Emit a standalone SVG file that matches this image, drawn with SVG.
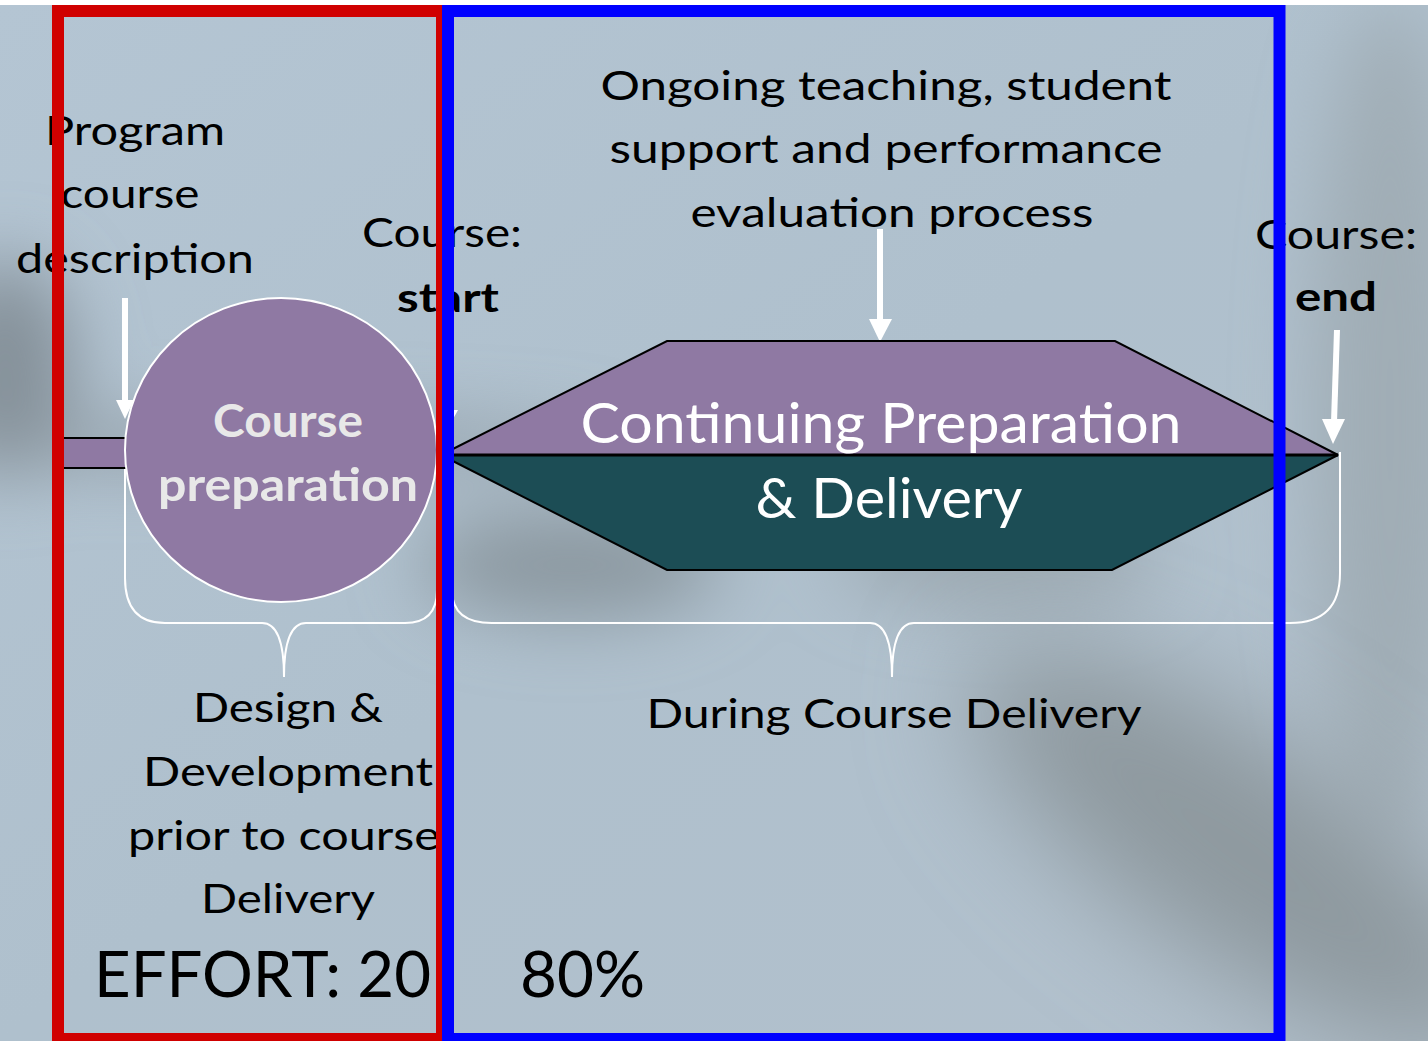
<svg xmlns="http://www.w3.org/2000/svg" width="1428" height="1041" viewBox="0 0 1428 1041">
  <defs>
    <filter id="blur" x="-50%" y="-50%" width="200%" height="200%">
      <feGaussianBlur stdDeviation="35"/>
    </filter>
    <filter id="blurL" x="-50%" y="-50%" width="200%" height="200%">
      <feGaussianBlur stdDeviation="55"/>
    </filter>
    <linearGradient id="bg" x1="0" y1="0" x2="1" y2="1">
      <stop offset="0" stop-color="#b4c5d3"/>
      <stop offset="0.5" stop-color="#afc0cd"/>
      <stop offset="1" stop-color="#b2c0cc"/>
    </linearGradient>
    <style>
      .lbl { font-family: Lato, "Open Sans", "Liberation Sans", sans-serif; font-size: 41px; fill: #000000; text-anchor: middle; }
      .b { font-weight: bold; }
      .big { font-family: Lato, "Open Sans", "Liberation Sans", sans-serif; font-size: 63px; fill: #000000; }
      .node-text { font-family: Lato, "Open Sans", "Liberation Sans", sans-serif; text-anchor: middle; }
      .arrow { stroke: #ffffff; stroke-width: 6; fill: none; }
      .head { fill: #ffffff; }
      .brace { stroke: #ffffff; stroke-width: 2; fill: none; }
      .purple { fill: #8f79a3; }
      .teal { fill: #1c4d55; }
    </style>
  </defs>

  <!-- background -->
  <g id="background">
    <rect x="0" y="0" width="1428" height="1041" fill="url(#bg)"/>
    <g filter="url(#blur)">
      <ellipse cx="5" cy="370" rx="70" ry="110" fill="#85919a"/>
      <ellipse cx="250" cy="445" rx="360" ry="22" fill="#8e9aa2"/>
      <ellipse cx="570" cy="565" rx="150" ry="55" fill="#8c99a1"/>
      <ellipse cx="1390" cy="420" rx="80" ry="420" fill="#a0adb6"/>
      <ellipse cx="1000" cy="560" rx="160" ry="45" fill="#9ba8b0"/>
    </g>
    <g filter="url(#blurL)">
      <ellipse cx="1240" cy="850" rx="320" ry="110" fill="#8e999f" transform="rotate(35 1240 850)"/>
    </g>
    <rect x="0" y="0" width="1428" height="5" fill="#ffffff"/>
  </g>

  <!-- connectors -->
  <g id="connectors">
    <line class="arrow" x1="125" y1="298" x2="125" y2="402"/>
    <polygon class="head" points="116,400 134,400 125,419"/>
    <line class="arrow" x1="447" y1="320" x2="447" y2="412"/>
    <polygon class="head" points="436,410 458,410 447,430"/>
    <line class="arrow" x1="880" y1="229" x2="880" y2="322"/>
    <polygon class="head" points="869,319 892,319 880,342"/>
    <line class="arrow" x1="1337" y1="330" x2="1334" y2="422"/>
    <polygon class="head" points="1322,419 1345,419 1333,444"/>
    <path class="brace" d="M125,450 V578 Q125,623 165,623 H262 Q284,623 284,677 Q284,623 306,623 H405 Q437,623 437,590 V450"/>
    <path class="brace" d="M452,455 V590 Q452,623 492,623 H870 Q892,623 892,677 Q892,623 914,623 H1290 Q1340,623 1340,573 V452"/>
  </g>

  <!-- nodes -->
  <g id="stub">
    <rect x="58" y="438" width="70" height="30" class="purple" stroke="#000000" stroke-width="2"/>
  </g>

  <g id="course-preparation">
    <ellipse cx="281" cy="450" rx="156" ry="152" class="purple" stroke="#ffffff" stroke-width="2"/>
    <text class="node-text b" x="288" y="437" font-size="46" fill="#e8e8e8" textLength="150" lengthAdjust="spacingAndGlyphs">Course</text>
    <text class="node-text b" x="288" y="501" font-size="46" fill="#e8e8e8" textLength="260" lengthAdjust="spacingAndGlyphs">preparation</text>
  </g>

  <g id="continuing-preparation">
    <polygon points="441,455 667,341 1115,341 1338,455" class="purple" stroke="#000000" stroke-width="2"/>
    <polygon points="441,455 667,570 1112,570 1338,455" class="teal" stroke="#000000" stroke-width="2"/>
    <line x1="441" y1="455" x2="1338" y2="455" stroke="#000000" stroke-width="3"/>
    <text class="node-text" x="881" y="443" font-size="56" fill="#ffffff" textLength="601" lengthAdjust="spacingAndGlyphs">Continuing Preparation</text>
    <text class="node-text" x="889" y="518" font-size="56" fill="#ffffff" textLength="267" lengthAdjust="spacingAndGlyphs">&amp; Delivery</text>
  </g>

  <g id="label-program">
    <text class="lbl" x="135" y="145" textLength="180" lengthAdjust="spacingAndGlyphs">Program</text>
    <text class="lbl" x="130" y="208" textLength="139" lengthAdjust="spacingAndGlyphs">course</text>
    <text class="lbl" x="135" y="273" textLength="238" lengthAdjust="spacingAndGlyphs">description</text>
  </g>

  <g id="label-start">
    <text class="lbl" x="442" y="247" textLength="160" lengthAdjust="spacingAndGlyphs">Course:</text>
    <text class="lbl b" x="448" y="312" textLength="102" lengthAdjust="spacingAndGlyphs">start</text>
  </g>

  <g id="label-ongoing">
    <text class="lbl" x="886" y="100" textLength="571" lengthAdjust="spacingAndGlyphs">Ongoing teaching, student</text>
    <text class="lbl" x="886" y="163" textLength="553" lengthAdjust="spacingAndGlyphs">support and performance</text>
    <text class="lbl" x="892" y="227" textLength="403" lengthAdjust="spacingAndGlyphs">evaluation process</text>
  </g>

  <g id="label-end">
    <text class="lbl" x="1336" y="249" textLength="162" lengthAdjust="spacingAndGlyphs">Course:</text>
    <text class="lbl b" x="1336" y="311" textLength="82" lengthAdjust="spacingAndGlyphs">end</text>
  </g>

  <g id="label-design">
    <text class="lbl" x="288" y="722" textLength="190" lengthAdjust="spacingAndGlyphs">Design &amp;</text>
    <text class="lbl" x="288" y="786" textLength="290" lengthAdjust="spacingAndGlyphs">Development</text>
    <text class="lbl" x="284" y="850" textLength="312" lengthAdjust="spacingAndGlyphs">prior to course</text>
    <text class="lbl" x="288" y="913" textLength="174" lengthAdjust="spacingAndGlyphs">Delivery</text>
  </g>

  <g id="label-during">
    <text class="lbl" x="894" y="728" textLength="495" lengthAdjust="spacingAndGlyphs">During Course Delivery</text>
  </g>

  <g id="effort">
    <text class="big" x="94" y="997" textLength="337" lengthAdjust="spacingAndGlyphs">EFFORT: 20</text>
    <text class="big" x="520" y="997" textLength="125" lengthAdjust="spacingAndGlyphs">80%</text>
  </g>

  <!-- frames -->
  <g id="frames">
    <rect x="58" y="11" width="384" height="1028" fill="none" stroke="#d00000" stroke-width="12"/>
    <rect x="448" y="11" width="831.5" height="1028" fill="none" stroke="#0000ff" stroke-width="12"/>
  </g>
</svg>
